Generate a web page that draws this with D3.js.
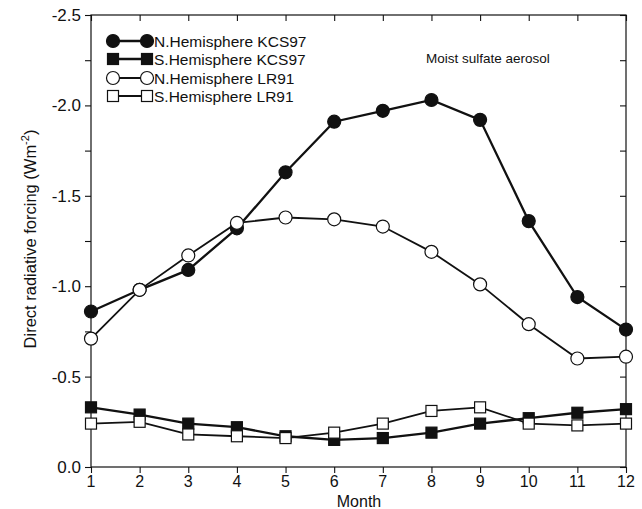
<!DOCTYPE html>
<html>
<head>
<meta charset="utf-8">
<script src="https://cdn.jsdelivr.net/npm/d3@7"></script>
<style>
  body { margin: 0; background: #fff; }
  text { font-family: "Liberation Sans", Arial, sans-serif; fill: #111; }
</style>
</head>
<body>
<div id="container"></div>
<script>
let months = [1, 2, 3, 4, 5, 6, 7, 8, 9, 10, 11, 12];
let nhKCS = [-0.86, -0.98, -1.09, -1.32, -1.63, -1.91, -1.97, -2.03, -1.92, -1.36, -0.94, -0.76];
let shKCS = [-0.33, -0.29, -0.24, -0.22, -0.17, -0.15, -0.16, -0.19, -0.24, -0.27, -0.30, -0.32];
let nhLR = [-0.71, -0.98, -1.17, -1.35, -1.38, -1.37, -1.33, -1.19, -1.01, -0.79, -0.60, -0.61];
let shLR = [-0.24, -0.25, -0.18, -0.17, -0.16, -0.19, -0.24, -0.31, -0.33, -0.24, -0.23, -0.24];
let yTicks = [0, -0.5, -1.0, -1.5, -2.0, -2.5];
let yMinor = [-0.25, -0.75, -1.25, -1.75, -2.25];

let w = 642;
let h = 509;
let padL = 91, padR = 626, padT = 15, padB = 467;

let viz = d3.select("#container")
  .append("svg")
    .attr("width", w)
    .attr("height", h)
;

let xScale = d3.scaleLinear().domain([1, 12]).range([padL, padR]);
let yScale = d3.scaleLinear().domain([0, -2.5]).range([padB, padT]);

// frame
viz.append("rect")
    .attr("x", padL).attr("y", padT)
    .attr("width", padR - padL).attr("height", padB - padT)
    .attr("fill", "none").attr("stroke", "#111").attr("stroke-width", 1.2)
;

let allY = yTicks.concat(yMinor);

// left ticks (outward)
viz.append("g")
    .attr("transform", "translate(" + padL + ",0)")
    .call(d3.axisLeft(yScale).tickValues(allY).tickSize(6).tickFormat(""))
    .call(g => g.select(".domain").remove())
;
// right ticks (inward)
viz.append("g")
    .attr("transform", "translate(" + padR + ",0)")
    .call(d3.axisRight(yScale).tickValues(allY).tickSize(-6).tickFormat(""))
    .call(g => g.select(".domain").remove())
;
// bottom ticks (outward)
viz.append("g")
    .attr("transform", "translate(0," + padB + ")")
    .call(d3.axisBottom(xScale).tickValues(months).tickSize(6).tickFormat(""))
    .call(g => g.select(".domain").remove())
;
// top ticks (inward)
viz.append("g")
    .attr("transform", "translate(0," + padT + ")")
    .call(d3.axisTop(xScale).tickValues(months).tickSize(-6).tickFormat(""))
    .call(g => g.select(".domain").remove())
;
viz.selectAll(".tick line").attr("stroke", "#111").attr("stroke-width", 1.1);

// tick labels
viz.selectAll(".ylab").data(yTicks).enter().append("text")
    .attr("x", padL - 10)
    .attr("y", d => yScale(d) + 6)
    .attr("text-anchor", "end")
    .style("font-size", "17px")
    .text(d => d3.format(".1f")(d).replace("−", "-"))
;
viz.selectAll(".xlab").data(months).enter().append("text")
    .attr("x", d => xScale(d))
    .attr("y", 487)
    .attr("text-anchor", "middle")
    .style("font-size", "16px")
    .text(d => d)
;

viz.append("text")
    .attr("x", 359)
    .attr("y", 507)
    .attr("text-anchor", "middle")
    .style("font-size", "16px")
    .text("Month")
;

let ytitle = viz.append("text")
    .attr("transform", "translate(36,239) rotate(-90)")
    .attr("text-anchor", "middle")
    .style("font-size", "16.5px")
;
ytitle.append("tspan").text("Direct radiative forcing (Wm");
ytitle.append("tspan").attr("dy", -7).style("font-size", "11px").text("-2");
ytitle.append("tspan").attr("dy", 7).text(")");

viz.append("text")
    .attr("x", 426)
    .attr("y", 63)
    .style("font-size", "13.5px")
    .text("Moist sulfate aerosol")
;

// series
let series = [
  { name: "N.Hemisphere KCS97", values: nhKCS, shape: "circle", fill: "#111", width: 2.3 },
  { name: "S.Hemisphere KCS97", values: shKCS, shape: "square", fill: "#111", width: 2.3 },
  { name: "N.Hemisphere LR91", values: nhLR, shape: "circle", fill: "#fff", width: 1.8 },
  { name: "S.Hemisphere LR91", values: shLR, shape: "square", fill: "#fff", width: 1.8 }
];

let lineMaker = d3.line()
    .x((d, i) => xScale(months[i]))
    .y(d => yScale(d))
;

function drawMarker(g, shape, fill, x, y) {
  if (shape == "circle") {
    g.append("circle")
        .attr("cx", x).attr("cy", y).attr("r", 6.5)
        .attr("fill", fill).attr("stroke", "#111").attr("stroke-width", 1.2);
  } else {
    g.append("rect")
        .attr("x", x - 5.5).attr("y", y - 5.5)
        .attr("width", 11).attr("height", 11)
        .attr("fill", fill).attr("stroke", "#111").attr("stroke-width", 1.2);
  }
}

series.forEach(function(s) {
  viz.append("path")
      .datum(s.values)
      .attr("d", lineMaker)
      .attr("fill", "none")
      .attr("stroke", "#111")
      .attr("stroke-width", s.width)
  ;
});
series.forEach(function(s) {
  let g = viz.append("g");
  s.values.forEach(function(v, i) {
    drawMarker(g, s.shape, s.fill, xScale(months[i]), yScale(v));
  });
});

// legend
let legY = [41, 59, 78, 96];
series.forEach(function(s, i) {
  let g = viz.append("g");
  g.append("line")
      .attr("x1", 113).attr("x2", 147)
      .attr("y1", legY[i]).attr("y2", legY[i])
      .attr("stroke", "#111").attr("stroke-width", s.width);
  drawMarker(g, s.shape, s.fill, 113, legY[i]);
  drawMarker(g, s.shape, s.fill, 147, legY[i]);
  g.append("text")
      .attr("x", 154)
      .attr("y", legY[i] + 5.5)
      .style("font-size", "15.5px")
      .text(s.name);
});
</script>
</body>
</html>
